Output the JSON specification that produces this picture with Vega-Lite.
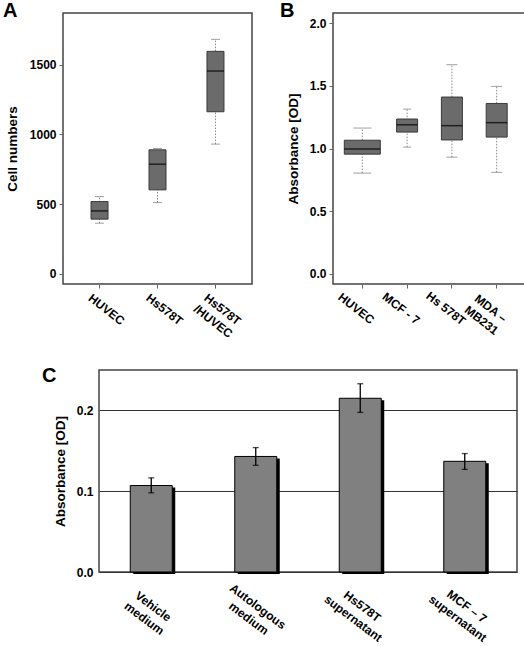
{
  "$schema": "https://vega.github.io/schema/vega-lite/v6.json",
  "padding": {"left": 2, "top": 0, "right": 0, "bottom": 0},
  "background": "white",
  "config": {
    "font": "Liberation Sans",
    "view": {"stroke": "#444", "strokeWidth": 1.5},
    "axis": {
      "labelFontWeight": "bold", "labelFontSize": 12, "labelColor": "#000", "labelLineHeight": 15,
      "titleFontWeight": "bold", "titleFontSize": 13.5, "titleColor": "#000",
      "domain": false, "grid": false, "tickColor": "#666", "tickSize": 4
    },
    "title": {"fontSize": 20, "fontWeight": "bold", "color": "#000", "anchor": "start", "frame": "group", "baseline": "alphabetic", "offset": 0}
  },
  "spacing": 24,
  "vconcat": [
    {
      "spacing": 26,
      "hconcat": [
        {
          "width": 189, "height": 271,
          "title": {"text": "A", "dx": -60, "dy": 8, "offset": 0},
          "data": {"values": [
            {"cell": "HUVEC", "lower": 364, "q1": 393, "median": 452, "q3": 519, "upper": 555},
            {"cell": "Hs578T", "lower": 512, "q1": 603, "median": 787, "q3": 890, "upper": 900},
            {"cell": "Hs578T\n/HUVEC", "lower": 931, "q1": 1163, "median": 1455, "q3": 1596, "upper": 1682}
          ]},
          "encoding": {
            "x": {"field": "cell", "type": "nominal", "sort": null,
              "scale": {"paddingInner": 0, "paddingOuter": 0.13},
              "axis": {"title": null, "labelAngle": 38, "labelAlign": "center", "labelBaseline": "middle", "labelPadding": 21, "labelOffset": 7, "labelExpr": "split(datum.label, '\\n')"}}
          },
          "layer": [
            {"mark": {"type": "rule", "color": "#888", "strokeDash": [1.5, 1.5], "strokeWidth": 1},
             "encoding": {"y": {"field": "lower", "type": "quantitative", "scale": {"domain": [-72, 1871], "nice": false, "zero": false},
               "axis": {"title": "Cell numbers", "values": [0, 500, 1000, 1500], "format": "d", "titlePadding": 10, "labelPadding": 3}},
               "y2": {"field": "upper"}}},
            {"mark": {"type": "tick", "color": "#777", "thickness": 1, "size": 9},
             "encoding": {"y": {"field": "lower", "type": "quantitative"}}},
            {"mark": {"type": "tick", "color": "#777", "thickness": 1, "size": 9},
             "encoding": {"y": {"field": "upper", "type": "quantitative"}}},
            {"mark": {"type": "bar", "fill": "#6b6b6b", "stroke": "#3a3a3a", "strokeWidth": 1, "size": 17},
             "encoding": {"y": {"field": "q1", "type": "quantitative"}, "y2": {"field": "q3"}}},
            {"mark": {"type": "tick", "color": "#000", "thickness": 1.5, "size": 17},
             "encoding": {"y": {"field": "median", "type": "quantitative"}}}
          ]
        },
        {
          "width": 193, "height": 271,
          "title": {"text": "B", "dx": -53, "dy": 8, "offset": 0},
          "data": {"values": [
            {"cell": "HUVEC", "lower": 0.804, "q1": 0.955, "median": 0.997, "q3": 1.066, "upper": 1.163},
            {"cell": "MCF - 7", "lower": 1.011, "q1": 1.131, "median": 1.189, "q3": 1.235, "upper": 1.314},
            {"cell": "Hs 578T", "lower": 0.931, "q1": 1.068, "median": 1.182, "q3": 1.41, "upper": 1.668},
            {"cell": "MDA –\nMB231", "lower": 0.81, "q1": 1.091, "median": 1.206, "q3": 1.359, "upper": 1.495}
          ]},
          "resolve": {"scale": {"size": "independent"}},
          "encoding": {
            "x": {"field": "cell", "type": "nominal", "sort": null,
              "scale": {"paddingInner": 0, "paddingOuter": 0.154},
              "axis": {"title": null, "labelAngle": 38, "labelAlign": "center", "labelBaseline": "middle", "labelPadding": 20, "labelOffset": -6, "labelExpr": "split(datum.label, '\\n')"}}
          },
          "layer": [
            {"mark": {"type": "rule", "color": "#888", "strokeDash": [1.5, 1.5], "strokeWidth": 1},
             "encoding": {"y": {"field": "lower", "type": "quantitative", "scale": {"domain": [-0.08, 2.08], "nice": false, "zero": false},
               "axis": {"title": "Absorbance [OD]", "values": [0, 0.5, 1, 1.5, 2], "format": ".1f", "titlePadding": 9, "labelPadding": 3}},
               "y2": {"field": "upper"}}},
            {"mark": {"type": "tick", "color": "#777", "thickness": 1},
             "encoding": {"y": {"field": "lower", "type": "quantitative"},
               "size": {"field": "cell", "type": "ordinal", "legend": null, "scale": {"type": "ordinal", "domain": ["HUVEC", "MCF - 7", "Hs 578T", "MDA –\nMB231"], "range": [18, 8, 11, 11]}}}},
            {"mark": {"type": "tick", "color": "#777", "thickness": 1},
             "encoding": {"y": {"field": "upper", "type": "quantitative"},
               "size": {"field": "cell", "type": "ordinal", "legend": null, "scale": {"type": "ordinal", "domain": ["HUVEC", "MCF - 7", "Hs 578T", "MDA –\nMB231"], "range": [18, 8, 11, 11]}}}},
            {"mark": {"type": "bar", "fill": "#6b6b6b", "stroke": "#3a3a3a", "strokeWidth": 1},
             "encoding": {"y": {"field": "q1", "type": "quantitative"}, "y2": {"field": "q3"},
               "size": {"field": "cell", "type": "ordinal", "legend": null, "scale": {"type": "ordinal", "domain": ["HUVEC", "MCF - 7", "Hs 578T", "MDA –\nMB231"], "range": [36, 21, 21, 21]}}}},
            {"mark": {"type": "tick", "color": "#000", "thickness": 1.5},
             "encoding": {"y": {"field": "median", "type": "quantitative"},
               "size": {"field": "cell", "type": "ordinal", "legend": null, "scale": {"type": "ordinal", "domain": ["HUVEC", "MCF - 7", "Hs 578T", "MDA –\nMB231"], "range": [36, 21, 21, 21]}}}}
          ]
        }
      ]
    },
    {
      "spacing": 20,
      "bounds": "flush",
      "hconcat": [
        {"width": 16, "height": 10, "view": {"stroke": null}, "data": {"values": []}, "mark": "point", "encoding": {}},
        {
          "width": 418, "height": 202,
          "title": {"text": "C", "dx": -57, "dy": 16, "offset": 0},
          "data": {"values": [
            {"treatment": "Vehicle\nmedium", "mean": 0.107, "lo": 0.098, "hi": 0.1165},
            {"treatment": "Autologous\nmedium", "mean": 0.143, "lo": 0.132, "hi": 0.154},
            {"treatment": "Hs578T\nsupernatant", "mean": 0.215, "lo": 0.1975, "hi": 0.233},
            {"treatment": "MCF – 7\nsupernatant", "mean": 0.137, "lo": 0.127, "hi": 0.1466}
          ]},
          "encoding": {
            "x": {"field": "treatment", "type": "nominal", "sort": null,
              "scale": {"paddingInner": 0, "paddingOuter": 0},
              "axis": {"title": null, "labelAngle": 37, "labelAlign": "center", "labelBaseline": "middle", "ticks": false, "labelPadding": 34, "labelOffset": 2, "labelLineHeight": 15, "labelExpr": "split(datum.label, '\\n')"}}
          },
          "layer": [
            {"mark": {"type": "bar", "color": "#000", "size": 42, "xOffset": 3, "yOffset": 2},
             "encoding": {"y": {"field": "mean", "type": "quantitative", "scale": {"domain": [0, 0.25], "nice": false},
               "axis": {"title": "Absorbance [OD]", "values": [0, 0.1, 0.2], "format": ".1f", "grid": true, "gridColor": "#333", "gridWidth": 1, "ticks": false, "labelPadding": 6, "titlePadding": 9}}}},
            {"mark": {"type": "bar", "fill": "#808080", "stroke": "#000", "strokeWidth": 1, "size": 42},
             "encoding": {"y": {"field": "mean", "type": "quantitative"}}},
            {"mark": {"type": "rule", "color": "#000", "strokeWidth": 1.3},
             "encoding": {"y": {"field": "lo", "type": "quantitative"}, "y2": {"field": "hi"}}},
            {"mark": {"type": "tick", "color": "#000", "thickness": 1.3, "size": 6},
             "encoding": {"y": {"field": "lo", "type": "quantitative"}}},
            {"mark": {"type": "tick", "color": "#000", "thickness": 1.3, "size": 6},
             "encoding": {"y": {"field": "hi", "type": "quantitative"}}}
          ]
        }
      ]
    }
  ]
}
